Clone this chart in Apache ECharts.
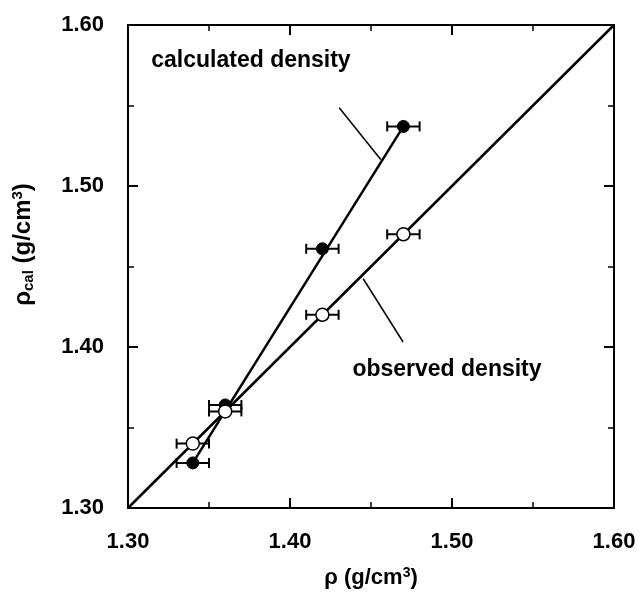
<!DOCTYPE html>
<html>
<head>
<meta charset="utf-8">
<script src="https://cdn.jsdelivr.net/npm/echarts@6/dist/echarts.min.js"></script>
<style>
  html, body { margin: 0; padding: 0; background: #fff; }
  #chart { width: 641px; height: 594px; }
</style>
</head>
<body>
<div id="chart"></div>
<script>
// measured density (x) of the four samples
var rhoObs = [1.34, 1.36, 1.42, 1.47];
// calculated density for the same samples
var rhoCal = [1.328, 1.364, 1.461, 1.537];
// horizontal error on the measured density
var xErr = [0.01, 0.01, 0.01, 0.01];
// straight lines
var calcLine = [[1.34, 1.328], [1.47, 1.537]];
var identLine = [[1.30, 1.30], [1.60, 1.60]];
// leader lines for the two labels
var calcLeader = [[1.4304, 1.5486], [1.456, 1.5165]];
var obsLeader = [[1.4452, 1.4424], [1.4698, 1.4031]];
var labelPos = [
  { name: "calculated density", value: [1.3759, 1.5778] },
  { name: "observed density", value: [1.4969, 1.3858] }
];
var ticks = ["1.30", "1.40", "1.50", "1.60"];

var myChart = echarts.init(document.getElementById("chart"));
var font = "Liberation Sans, Arial, sans-serif";

var calcPts = rhoObs.map(function (x, i) { return [x, rhoCal[i]]; });
var obsPts = rhoObs.map(function (x) { return [x, x]; });
var errCalc = rhoObs.map(function (x, i) { return [x, rhoCal[i], xErr[i]]; });
var errObs = rhoObs.map(function (x, i) { return [x, x, xErr[i]]; });

function errorBar(params, api) {
  var x = api.value(0), y = api.value(1), e = api.value(2);
  var a = api.coord([x - e, y]);
  var b = api.coord([x + e, y]);
  var cap = 5;
  var st = { stroke: "#000", lineWidth: 2 };
  return {
    type: "group",
    children: [
      { type: "line", shape: { x1: a[0], y1: a[1], x2: b[0], y2: b[1] }, style: st },
      { type: "line", shape: { x1: a[0], y1: a[1] - cap, x2: a[0], y2: a[1] + cap }, style: st },
      { type: "line", shape: { x1: b[0], y1: b[1] - cap, x2: b[0], y2: b[1] + cap }, style: st }
    ]
  };
}

function baseAxis(pos, showLabel) {
  return {
    type: "value",
    position: pos,
    min: 1.3,
    max: 1.6,
    interval: 0.1,
    axisLine: { show: true, onZero: false, lineStyle: { color: "#000", width: 2 } },
    axisTick: { show: true, inside: true, length: 10, lineStyle: { color: "#000", width: 2 } },
    minorTick: { show: true, splitNumber: 2, length: 6, lineStyle: { color: "#000", width: 1.5 } },
    splitLine: { show: false },
    axisLabel: {
      show: showLabel,
      color: "#000",
      fontFamily: font,
      fontWeight: "bold",
      fontSize: 22,
      formatter: function (v) {
        var s = v.toFixed(2);
        return ticks.indexOf(s) >= 0 ? s : "";
      }
    }
  };
}

var xMain = baseAxis("bottom", true);
xMain.axisLabel.margin = 23;
xMain.name = "ρ (g/cm{sup|3})";
xMain.nameLocation = "middle";
xMain.nameGap = 58;
xMain.nameTextStyle = {
  color: "#000", fontFamily: font, fontWeight: "bold", fontSize: 22,
  rich: { sup: { color: "#000", fontSize: 14, fontWeight: "bold", fontFamily: font, padding: [0, 0, 10, 0] } }
};

var yMain = baseAxis("left", true);
yMain.axisLabel.margin = 24;
yMain.name = "ρ{sub|cal} (g/cm{sup|3})";
yMain.nameLocation = "middle";
yMain.nameGap = 92;
yMain.nameRotate = 90;
yMain.nameTextStyle = {
  color: "#000", fontFamily: font, fontWeight: "bold", fontSize: 24,
  padding: [0, 0, 0, 44],
  rich: {
    sub: { color: "#000", fontSize: 15, fontWeight: "bold", fontFamily: font, padding: [11, 0, 0, 0] },
    sup: { color: "#000", fontSize: 15, fontWeight: "bold", fontFamily: font, padding: [0, 0, 11, 0] }
  }
};

var option = {
  animation: false,
  backgroundColor: "#fff",
  grid: { left: 128, right: 27, top: 25, bottom: 84 },
  xAxis: [xMain, baseAxis("top", false)],
  yAxis: [yMain, baseAxis("right", false)],
  series: [
    {
      name: "observed line", type: "line", data: identLine, symbol: "none",
      lineStyle: { color: "#000", width: 2.5 }, z: 2
    },
    {
      name: "calculated line", type: "line", data: calcLine, symbol: "none",
      lineStyle: { color: "#000", width: 2.5 }, z: 2
    },
    {
      name: "leader calc", type: "line", data: calcLeader, symbol: "none",
      lineStyle: { color: "#000", width: 1.5 }, z: 2
    },
    {
      name: "leader obs", type: "line", data: obsLeader, symbol: "none",
      lineStyle: { color: "#000", width: 1.5 }, z: 2
    },
    { name: "err calc", type: "custom", renderItem: errorBar, data: errCalc, z: 3 },
    { name: "err obs", type: "custom", renderItem: errorBar, data: errObs, z: 3 },
    {
      name: "calculated density", type: "scatter", data: calcPts, symbolSize: 12,
      itemStyle: { color: "#000", borderColor: "#000", borderWidth: 1, opacity: 1 }, z: 4
    },
    {
      name: "observed density", type: "scatter", data: obsPts, symbolSize: 13,
      itemStyle: { color: "#fff", borderColor: "#000", borderWidth: 1.5, opacity: 1 }, z: 4
    },
    {
      name: "labels", type: "scatter", data: labelPos, symbolSize: 0,
      itemStyle: { opacity: 1 },
      label: {
        show: true, position: "inside", formatter: "{b}",
        color: "#000", fontFamily: font, fontWeight: "bold", fontSize: 23
      },
      silent: true, z: 5
    }
  ]
};
myChart.setOption(option);
window.addEventListener("resize", function () { myChart.resize(); });
</script>
</body>
</html>
